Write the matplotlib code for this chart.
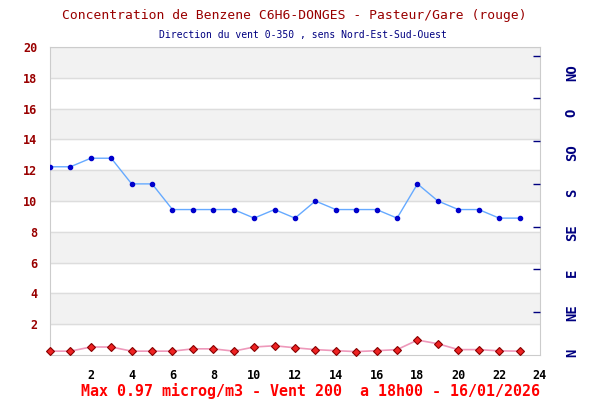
import matplotlib
matplotlib.use("Agg")
import matplotlib.pyplot as plt

# --------------------------------------------------------------
# Data
# --------------------------------------------------------------

hours = list(range(24))
benzene = [0.25, 0.25, 0.52, 0.52, 0.25, 0.25, 0.25, 0.40, 0.40, 0.25, 0.52, 0.60,
           0.47, 0.35, 0.28, 0.22, 0.28, 0.35, 0.97, 0.73, 0.35, 0.35, 0.27, 0.25]
wind_dir = [220, 220, 230, 230, 200, 200, 170, 170, 170, 170, 160, 170,
            160, 180, 170, 170, 170, 160, 200, 180, 170, 170, 160, 160]
y_ticks = [2, 4, 6, 8, 10, 12, 14, 16, 18, 20]
x_ticks = [2, 4, 6, 8, 10, 12, 14, 16, 18, 20, 22, 24]
dir_ticks = [50, 100, 150, 200, 250, 300, 350]
dir_labels = ["N", "NE", "E", "SE", "S", "SO", "O", "NO"]

title = "Concentration de Benzene C6H6-DONGES - Pasteur/Gare (rouge)"
subtitle = "Direction du vent 0-350 , sens Nord-Est-Sud-Ouest"
footer = "Max 0.97 microg/m3 - Vent 200  a 18h00 - 16/01/2026"

mono = "DejaVu Sans Mono"

# --------------------------------------------------------------
# Figure
# --------------------------------------------------------------

fig = plt.figure(figsize=(6, 4), dpi=100)
ax = fig.add_axes([0.0833, 0.1125, 0.8167, 0.77])

# alternating bands + grid
for y0 in range(0, 20, 4):
    ax.axhspan(y0 + 2, y0 + 4, color="#f2f2f2", zorder=0)
for y in y_ticks:
    ax.axhline(y, color="#dddddd", lw=1, zorder=1)

ax.set_xlim(0, 24)
ax.set_ylim(0, 20)
ax.set_xticks(x_ticks)
ax.set_yticks(y_ticks)
ax.tick_params(axis="both", length=0)
ax.tick_params(axis="x", pad=10)
ax.tick_params(axis="y", pad=9)
for lab in ax.get_xticklabels():
    lab.set_fontfamily(mono)
    lab.set_fontweight("bold")
    lab.set_fontsize(8.5)
    lab.set_color("black")
for lab in ax.get_yticklabels():
    lab.set_fontfamily(mono)
    lab.set_fontweight("bold")
    lab.set_fontsize(8.5)
    lab.set_color("#990000")
for s in ax.spines.values():
    s.set_color("#cccccc")

# wind direction on a right axis
ax2 = ax.twinx()
ax2.set_ylim(0, 360)
ax2.set_yticks(dir_ticks)
ax2.set_yticklabels([])
ax2.tick_params(axis="y", direction="in", length=5, color="#000080", width=1)
for s in ax2.spines.values():
    s.set_visible(False)

ax2.plot(hours, wind_dir, color="#66aaff", lw=1, marker="o", markersize=3,
         markerfacecolor="#0000cc", markeredgecolor="#0000cc", zorder=3)

ax.plot(hours, benzene, color="#ee99bb", lw=1.2, marker="D", markersize=4.5,
        markerfacecolor="#ee2222", markeredgecolor="#880000", markeredgewidth=0.8,
        zorder=4, clip_on=False)

# compass labels
for i, lab in enumerate(dir_labels):
    fig.text(0.953, (400 - 353 + i * 40) / 400, lab, rotation=90, ha="center",
             va="center", color="#000080", fontfamily=mono, fontweight="bold",
             fontsize=10)

fig.text(0.49, 0.9625, title, ha="center", va="center", color="#990000",
         fontfamily=mono, fontsize=9.4)
fig.text(0.505, 0.912, subtitle, ha="center", va="center", color="#000080",
         fontfamily=mono, fontsize=7)
fig.text(0.517, 0.0225, footer, ha="center", va="center", color="#ff0000",
         fontfamily=mono, fontweight="bold", fontsize=10.8)

fig.savefig("out.png", dpi=100)
